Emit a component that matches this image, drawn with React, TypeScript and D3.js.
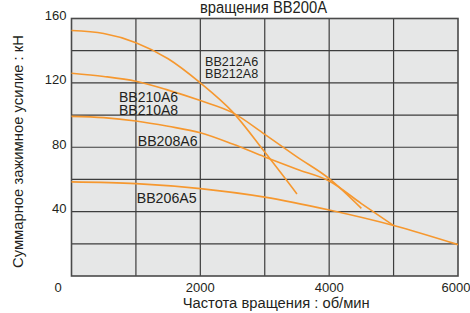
import React from "react";
import * as d3 from "d3";

// rpm values and summary clamping force (kN)
const bb212Rpm = [0, 500, 1000, 1500, 2000, 2500, 3000, 3500];
const bb212Force = [152.5, 150.7, 145, 135, 120, 102, 77, 51];

const bb210Rpm = [0, 500, 1000, 1500, 2000, 2500, 3000, 3500, 4000, 4500];
const bb210Force = [126, 124, 121, 115.5, 109, 101.5, 88, 74, 60.5, 42];

const bb208Rpm = [0, 500, 1000, 1500, 2000, 2500, 3000, 3500, 4000, 4500, 5000];
const bb208Force = [99.2, 98.4, 96.3, 93, 89, 82, 74, 66.3, 59, 45, 31.4];

const bb206Rpm = [0, 1000, 2000, 3000, 4000, 5000, 6000];
const bb206Force = [58.5, 57.4, 54.3, 49, 41, 31.4, 19.5];

const xTickLabels = [2000, 4000, 6000];
const yTickLabels = [40, 80, 120, 160];
const xGrid = [1000, 2000, 3000, 4000, 5000];
const yGrid = [20, 40, 60, 80, 100, 120, 140];

const seriesLabels = [
  { lines: ["BB212A6", "BB212A8"], x: 205, y: [66, 78], size: 12.6 },
  { lines: ["BB210A6", "BB210A8"], x: 119, y: [101.5, 115], size: 14 },
  { lines: ["BB208A6"], x: 137.7, y: [145.7], size: 14.2 },
  { lines: ["BB206A5"], x: 136.7, y: [203.3], size: 14.2 },
];

const W = 470;
const H = 313;
const font = "'Liberation Sans', Arial, sans-serif";
const orange = "#f6982f";

export default function App() {
  const x = d3.scaleLinear().domain([0, 6000]).range([71.5, 458]);
  const y = d3.scaleLinear().domain([0, 160]).range([276, 18.5]);

  const line = d3
    .line<[number, number]>()
    .x((d) => x(d[0]))
    .y((d) => y(d[1]))
    .curve(d3.curveMonotoneX);

  const series = [
    d3.zip(bb212Rpm, bb212Force),
    d3.zip(bb210Rpm, bb210Force),
    d3.zip(bb208Rpm, bb208Force),
    d3.zip(bb206Rpm, bb206Force),
  ] as [number, number][][];

  return (
    <svg
      width={W}
      height={H}
      style={{ position: "absolute", left: 0, top: 0, background: "#fff" }}
      fontFamily={font}
    >
      <text
        x={200}
        y={12.5}
        fontSize={16}
        textLength={127}
        lengthAdjust="spacingAndGlyphs"
        fill="#231f20"
      >
        вращения BB200A
      </text>

      <rect
        x={x(0)}
        y={y(160)}
        width={x(6000) - x(0)}
        height={y(0) - y(160)}
        fill="#e6e7e7"
      />

      {xGrid.map((v) => (
        <line
          key={"gx" + v}
          x1={x(v)}
          x2={x(v)}
          y1={y(160)}
          y2={y(0)}
          stroke="#3d3d3d"
          strokeWidth={1.2}
        />
      ))}
      {yGrid.map((v) => (
        <line
          key={"gy" + v}
          x1={x(0)}
          x2={x(6000)}
          y1={y(v)}
          y2={y(v)}
          stroke="#3d3d3d"
          strokeWidth={1.2}
        />
      ))}
      <rect
        x={x(0)}
        y={y(160)}
        width={x(6000) - x(0)}
        height={y(0) - y(160)}
        fill="none"
        stroke="#4a4a4a"
        strokeWidth={1.6}
      />

      {series.map((s, i) => (
        <path
          key={"s" + i}
          d={line(s) || ""}
          fill="none"
          stroke={orange}
          strokeWidth={1.6}
        />
      ))}

      {seriesLabels.map((l) =>
        l.lines.map((t, j) => (
          <text
            key={t}
            x={l.x}
            y={l.y[j]}
            fontSize={l.size}
            fill="#231f20"
          >
            {t}
          </text>
        ))
      )}

      {yTickLabels.map((v) => (
        <text
          key={"yt" + v}
          x={66.5}
          y={y(v) + 1.5}
          fontSize={13}
          textAnchor="end"
          fill="#231f20"
        >
          {v}
        </text>
      ))}
      <text x={58} y={292} fontSize={13} textAnchor="middle" fill="#231f20">
        0
      </text>
      {xTickLabels.map((v) => (
        <text
          key={"xt" + v}
          x={x(v) - (v === 6000 ? 2 : 0)}
          y={292}
          fontSize={13}
          textAnchor="middle"
          fill="#231f20"
        >
          {v}
        </text>
      ))}

      <text
        x={182.7}
        y={307.5}
        fontSize={15.5}
        textLength={187}
        lengthAdjust="spacingAndGlyphs"
        fill="#231f20"
      >
        Частота вращения : об/мин
      </text>
      <text
        transform="translate(23,268) rotate(-90)"
        x={0}
        y={0}
        fontSize={15.5}
        textLength={233}
        lengthAdjust="spacingAndGlyphs"
        fill="#231f20"
      >
        Суммарное зажимное усилие : кН
      </text>
    </svg>
  );
}
